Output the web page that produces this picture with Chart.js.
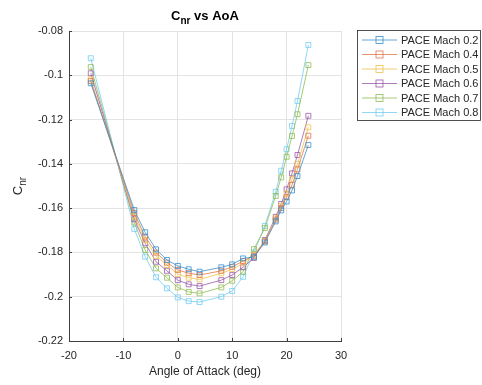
<!DOCTYPE html>
<html><head><meta charset="utf-8">
<script src="https://cdn.jsdelivr.net/npm/chart.js@4"></script>
<style>html,body{margin:0;padding:0;background:#fff}</style>
</head><body>
<canvas id="c" width="482" height="385" style="display:block;width:482px;height:385px"></canvas>
<script>
const aoa = [-16, -8, -6, -4, -2, 0, 2, 4, 8, 10, 12, 14, 16, 18, 19, 20, 21, 22, 24];
const mach02 = [-0.1036, -0.1608, -0.1709, -0.1786, -0.1834, -0.1861, -0.1876, -0.1887, -0.1867, -0.1854, -0.1827, -0.1820, -0.1755, -0.1660, -0.1610, -0.1570, -0.1520, -0.1455, -0.1315];
const mach04 = [-0.1026, -0.1622, -0.1729, -0.1801, -0.1846, -0.1879, -0.1894, -0.1902, -0.1883, -0.1865, -0.1839, -0.1815, -0.1750, -0.1652, -0.1600, -0.1550, -0.1495, -0.1425, -0.1273];
const mach05 = [-0.1018, -0.1636, -0.1744, -0.1816, -0.1857, -0.1898, -0.1914, -0.1922, -0.1894, -0.1876, -0.1849, -0.1810, -0.1748, -0.1645, -0.1590, -0.1535, -0.1470, -0.1400, -0.1235];
const mach06 = [-0.0991, -0.1650, -0.1759, -0.1842, -0.1883, -0.1925, -0.1944, -0.1952, -0.1925, -0.1902, -0.1867, -0.1825, -0.1744, -0.1639, -0.1581, -0.1515, -0.1443, -0.1360, -0.1183];
const mach07 = [-0.0963, -0.1665, -0.1789, -0.1872, -0.1914, -0.1958, -0.1978, -0.1985, -0.1958, -0.1928, -0.1887, -0.1785, -0.1690, -0.1545, -0.1461, -0.1368, -0.1274, -0.1176, -0.0954];
const mach08 = [-0.0923, -0.1694, -0.1819, -0.1912, -0.1962, -0.2003, -0.2020, -0.2024, -0.2000, -0.1974, -0.1910, -0.1800, -0.1680, -0.1526, -0.1431, -0.1334, -0.1229, -0.1116, -0.0863];
const seriesLabels = ['PACE Mach 0.2', 'PACE Mach 0.4', 'PACE Mach 0.5', 'PACE Mach 0.6', 'PACE Mach 0.7', 'PACE Mach 0.8'];
const xTicks = [-20, -10, 0, 10, 20, 30];
const yTicks = [-0.22, -0.2, -0.18, -0.16, -0.14, -0.12, -0.1, -0.08];

const colors = ['#3a8fcb', '#e0774a', '#f0c14f', '#9b5aa8', '#8fbd55', '#72cdf2'];
const allSeries = [mach02, mach04, mach05, mach06, mach07, mach08];
const FONT = "'Liberation Sans', Arial, Helvetica, sans-serif";
const TXT = '#262626';

const datasets = allSeries.map((s, i) => ({
  label: seriesLabels[i],
  data: aoa.map((a, k) => ({x: a, y: s[k]})),
  borderColor: colors[i],
  backgroundColor: 'rgba(0,0,0,0)',
  borderWidth: 0.8,
  pointStyle: 'rect',
  pointRadius: 3.5,
  pointBorderWidth: 0.8,
  pointBorderColor: colors[i],
  pointBackgroundColor: 'rgba(0,0,0,0)',
  tension: 0
}));

const deco = {
  id: 'deco',
  afterDraw(chart) {
    const ctx = chart.ctx;
    const ca = chart.chartArea;
    const xs = chart.scales.x, ys = chart.scales.y;
    ctx.save();
    // inward ticks
    ctx.strokeStyle = '#404040';
    ctx.lineWidth = 1;
    ctx.beginPath();
    xTicks.forEach(t => {
      const px = Math.round(xs.getPixelForValue(t)) + 0.5;
      ctx.moveTo(px, ca.bottom); ctx.lineTo(px, ca.bottom - 3);
    });
    yTicks.forEach(t => {
      const py = Math.round(ys.getPixelForValue(t)) + 0.5;
      ctx.moveTo(ca.left, py); ctx.lineTo(ca.left + 3, py);
    });
    ctx.stroke();

    // title: C_nr vs AoA
    const cx = (ca.left + ca.right) / 2;
    ctx.fillStyle = '#000';
    ctx.textBaseline = 'alphabetic';
    const f1 = 'bold 13px ' + FONT, f2 = 'bold 10px ' + FONT;
    ctx.font = f1; const wC = ctx.measureText('C').width; const wRest = ctx.measureText(' vs AoA').width;
    ctx.font = f2; const wSub = ctx.measureText('nr').width;
    let tx = cx - (wC + wSub + wRest) / 2;
    const ty = 20;
    ctx.textAlign = 'left';
    ctx.font = f1; ctx.fillText('C', tx, ty); tx += wC;
    ctx.font = f2; ctx.fillText('nr', tx, ty + 3.5); tx += wSub;
    ctx.font = f1; ctx.fillText(' vs AoA', tx, ty);

    // x axis title
    ctx.fillStyle = TXT;
    ctx.font = '12px ' + FONT;
    ctx.textAlign = 'center';
    ctx.textBaseline = 'middle';
    ctx.fillText('Angle of Attack (deg)', cx, 372);

    // y axis title: C_nr rotated
    ctx.save();
    const cy = (ca.top + ca.bottom) / 2;
    ctx.translate(22, cy);
    ctx.rotate(-Math.PI / 2);
    ctx.textAlign = 'left';
    ctx.textBaseline = 'alphabetic';
    const g1 = '13px ' + FONT, g2 = '10px ' + FONT;
    ctx.font = g1; const vC = ctx.measureText('C').width;
    ctx.font = g2; const vSub = ctx.measureText('nr').width;
    let lx = -(vC + vSub) / 2;
    ctx.font = g1; ctx.fillText('C', lx, 0); lx += vC;
    ctx.font = g2; ctx.fillText('nr', lx, 4);
    ctx.restore();

    // legend
    const bx = 357.5, by = 30.5, bw = 123, bh = 90;
    ctx.fillStyle = '#fff';
    ctx.fillRect(bx, by, bw, bh);
    ctx.strokeStyle = '#262626';
    ctx.lineWidth = 0.8;
    ctx.strokeRect(bx, by, bw, bh);
    ctx.font = '11px ' + FONT;
    ctx.textAlign = 'left';
    ctx.textBaseline = 'middle';
    seriesLabels.forEach((lab, i) => {
      const ly = 40 + i * 14.5;
      ctx.strokeStyle = colors[i];
      ctx.lineWidth = 0.8;
      ctx.beginPath(); ctx.moveTo(362, ly); ctx.lineTo(397, ly); ctx.stroke();
      ctx.strokeRect(376, ly - 3.5, 7, 7);
      ctx.fillStyle = TXT;
      ctx.fillText(lab, 401, ly + 0.5);
    });
    ctx.restore();
  }
};

new Chart(document.getElementById('c'), {
  type: 'line',
  data: { datasets },
  options: {
    responsive: false,
    devicePixelRatio: 1,
    animation: false,
    layout: { padding: { top: 31, right: 141, left: 0, bottom: 0 } },
    plugins: { legend: { display: false }, title: { display: false }, tooltip: { enabled: false } },
    scales: {
      x: {
        type: 'linear', min: -20, max: 30,
        afterBuildTicks(s) { s.ticks = xTicks.map(v => ({value: v})); },
        afterFit(s) { s.height = 44; s.paddingLeft = 0; s.paddingRight = 0; },
        ticks: { color: TXT, font: { family: FONT, size: 11 }, padding: 8, maxRotation: 0, autoSkip: false,
                 callback: v => String(+Number(v).toFixed(2)) },
        grid: { color: '#e3e3e3', drawTicks: false, lineWidth: 1 },
        border: { display: true, color: '#404040', width: 1 }
      },
      y: {
        type: 'linear', min: -0.22, max: -0.08,
        afterBuildTicks(s) { s.ticks = yTicks.map(v => ({value: v})); },
        afterFit(s) { s.width = 69; s.paddingTop = 0; s.paddingBottom = 0; },
        ticks: { color: TXT, font: { family: FONT, size: 11 }, padding: 6, autoSkip: false,
                 callback: v => String(+Number(v).toFixed(2)) },
        grid: { color: '#e3e3e3', drawTicks: false, lineWidth: 1 },
        border: { display: true, color: '#404040', width: 1 }
      }
    }
  },
  plugins: [deco]
});
</script>
</body></html>
